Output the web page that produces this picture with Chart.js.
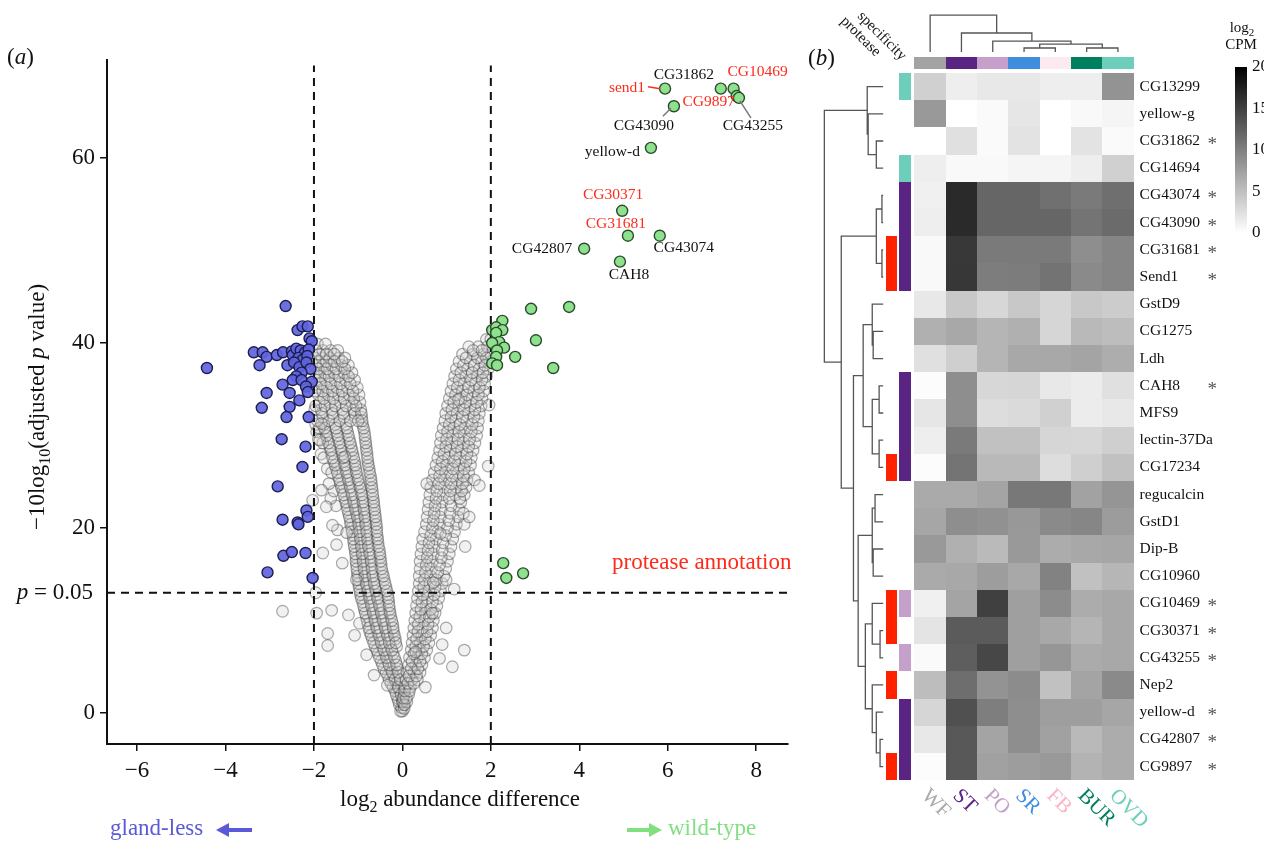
<!DOCTYPE html>
<html>
<head>
<meta charset="utf-8">
<script src="https://cdn.jsdelivr.net/npm/chart.js@4.4.1/dist/chart.umd.min.js"></script>
<style>
  html, body { margin: 0; padding: 0; background: #fff; width: 1264px; height: 843px; overflow: hidden; }
  #volcano { position: absolute; left: 0; top: 0; }
  #heat { position: absolute; left: 800px; top: 0; }
</style>
</head>
<body>
<canvas id="volcano" width="800" height="843"></canvas>
<canvas id="heat" width="464" height="843"></canvas>
<script>
const SERIF = '"Liberation Serif", "DejaVu Serif", serif';
const RED = '#ff2a1a';

// ---------- (a) volcano data ----------
const xTicks = [-6, -4, -2, 0, 2, 4, 6, 8];
const yTicks = [0, 20, 40, 60];
const foldCut = [-2, 2];
const pCutY = 13.0; // -10log10(0.05)

// gland-less enriched (blue)
const glandLess = [
  [-4.42, 37.3], [-2.64, 44.0], [-2.37, 41.4], [-2.26, 41.8], [-2.14, 41.8], [-2.10, 40.5], [-2.05, 40.2],
  [-3.36, 39.0], [-3.16, 39.0], [-3.07, 38.5], [-2.84, 38.7], [-3.23, 37.6], [-2.70, 39.0], [-2.50, 39.1],
  [-2.48, 38.7], [-2.40, 39.4], [-2.30, 39.2], [-2.20, 39.0], [-2.12, 39.3], [-2.35, 38.4], [-2.25, 38.2],
  [-2.15, 38.6], [-2.60, 37.6], [-2.45, 37.9], [-2.33, 37.4], [-2.17, 37.9], [-2.08, 37.2], [-2.28, 36.8],
  [-2.40, 36.4], [-2.48, 36.0], [-2.28, 36.0], [-2.05, 35.8], [-2.18, 35.3], [-2.71, 35.5], [-2.55, 34.6],
  [-3.07, 34.6], [-2.14, 34.7], [-2.33, 33.8], [-3.18, 33.0], [-2.55, 33.1], [-2.62, 32.0], [-2.12, 32.0],
  [-2.73, 29.6], [-2.19, 28.8], [-2.26, 26.6], [-2.82, 24.5], [-2.17, 21.9], [-2.14, 21.2], [-2.71, 20.9],
  [-2.37, 20.6], [-2.35, 20.4], [-2.69, 17.0], [-2.50, 17.4], [-2.19, 17.3], [-3.05, 15.2], [-2.03, 14.6]
];

// wild-type enriched (green), named where labelled
const wildType = [
  [5.94, 67.5, 'send1'], [7.20, 67.5, 'CG31862'], [7.49, 67.5, 'CG10469'], [7.56, 66.7, 'CG9897'],
  [7.61, 66.5, 'CG43255'], [6.14, 65.6, 'CG43090'], [5.62, 61.1, 'yellow-d'], [4.97, 54.3, 'CG30371'],
  [5.10, 51.6, 'CG31681'], [5.82, 51.6, 'CG43074'], [4.11, 50.2, 'CG42807'], [4.92, 48.8, 'CAH8'],
  [2.91, 43.7], [3.77, 43.9], [3.02, 40.3], [2.55, 38.5], [3.41, 37.3], [2.03, 41.4], [2.26, 42.4],
  [2.12, 41.7], [2.26, 41.4], [2.12, 41.1], [2.19, 40.1], [2.03, 40.0], [2.30, 39.5], [2.14, 39.2],
  [2.12, 38.5], [2.03, 37.8], [2.14, 37.6], [2.28, 16.2], [2.35, 14.6], [2.73, 15.1]
];

// not significant (grey), rows of [y, [x...]]
const notSigLeftArm = [
  [0.2, [0.0, -0.04]], [0.9, [-0.07, 0.03]], [1.6, [-0.11, -0.01]], [2.4, [-0.17, -0.06]],
  [3.2, [-0.26, -0.13, -0.03]], [4.0, [-0.33, -0.19, -0.06]], [4.8, [-0.42, -0.27, -0.11]],
  [5.6, [-0.48, -0.33, -0.15]], [6.4, [-0.55, -0.39, -0.21]], [7.2, [-0.62, -0.45, -0.27, -0.13]],
  [8.0, [-0.68, -0.5, -0.31, -0.16]], [8.8, [-0.74, -0.56, -0.37, -0.2]], [9.6, [-0.78, -0.6, -0.41, -0.22]],
  [10.4, [-0.82, -0.64, -0.46, -0.26]], [11.2, [-0.86, -0.68, -0.5, -0.29]], [12.0, [-0.9, -0.72, -0.54, -0.31]],
  [12.8, [-0.95, -0.76, -0.58, -0.33]], [13.6, [-0.98, -0.8, -0.62, -0.37]], [14.4, [-1.0, -0.83, -0.65, -0.41]],
  [15.2, [-1.02, -0.86, -0.68, -0.45]], [16.0, [-1.04, -0.88, -0.7, -0.48]], [16.8, [-1.05, -0.9, -0.72, -0.5]],
  [17.6, [-1.07, -0.92, -0.75, -0.52]], [18.4, [-1.1, -0.94, -0.78, -0.55]], [19.2, [-1.12, -0.96, -0.8, -0.57]],
  [20.0, [-1.15, -0.98, -0.82, -0.58]], [20.8, [-1.18, -1.0, -0.84, -0.6]], [21.6, [-1.22, -1.04, -0.86, -0.62]],
  [22.4, [-1.5, -1.26, -1.08, -0.88, -0.64]], [23.2, [-1.62, -1.3, -1.12, -0.9, -0.66]],
  [24.0, [-1.55, -1.35, -1.16, -0.94, -0.68]], [24.8, [-1.66, -1.4, -1.2, -0.98, -0.7]],
  [25.6, [-1.45, -1.24, -1.02, -0.72]], [26.4, [-1.7, -1.5, -1.28, -1.05, -0.75]],
  [27.2, [-1.55, -1.32, -1.08, -0.78]], [28.0, [-1.84, -1.6, -1.36, -1.12, -0.8]],
  [28.8, [-1.64, -1.4, -1.16, -0.82]], [29.6, [-1.9, -1.7, -1.44, -1.2, -0.84]],
  [30.4, [-1.94, -1.74, -1.48, -1.24, -0.86]], [31.2, [-1.96, -1.78, -1.52, -1.28, -0.9]],
  [32.0, [-1.8, -1.56, -1.32, -1.06, -0.92]], [32.8, [-1.98, -1.84, -1.6, -1.36, -1.1, -0.94]],
  [33.6, [-1.86, -1.64, -1.4, -1.14, -0.96]], [34.4, [-1.9, -1.68, -1.44, -1.2, -0.98]],
  [35.2, [-1.92, -1.7, -1.48, -1.24, -1.02]], [36.0, [-1.95, -1.74, -1.52, -1.28, -1.08]],
  [36.8, [-1.96, -1.76, -1.55, -1.32, -1.14]], [37.6, [-1.98, -1.8, -1.6, -1.38, -1.22]],
  [38.4, [-1.98, -1.82, -1.64, -1.44, -1.3]], [39.2, [-1.96, -1.8, -1.62, -1.46]], [39.9, [-1.92, -1.74]]
];
const notSigLeftFill = [
  [0.6, [-0.02]], [1.3, [-0.09, 0.01]], [2.0, [-0.14, -0.03]], [2.8, [-0.21, -0.09]],
  [3.6, [-0.3, -0.17, -0.05]], [4.4, [-0.37, -0.23, -0.09]], [5.2, [-0.45, -0.3, -0.13]],
  [6.0, [-0.52, -0.36, -0.18]], [6.8, [-0.58, -0.42, -0.24]], [7.6, [-0.65, -0.48, -0.3, -0.15]],
  [8.4, [-0.71, -0.53, -0.34, -0.18]], [9.2, [-0.76, -0.58, -0.39, -0.21]], [10.0, [-0.8, -0.62, -0.44, -0.24]],
  [10.8, [-0.84, -0.66, -0.48, -0.28]], [11.6, [-0.88, -0.7, -0.52, -0.3]], [12.4, [-0.93, -0.74, -0.56, -0.32]],
  [13.2, [-0.96, -0.78, -0.6, -0.35]], [14.0, [-0.99, -0.82, -0.64, -0.39]], [14.8, [-1.01, -0.85, -0.67, -0.43]],
  [15.6, [-1.03, -0.87, -0.69, -0.47]], [16.4, [-1.05, -0.89, -0.71, -0.49]], [17.2, [-1.06, -0.91, -0.74, -0.51]],
  [18.0, [-1.09, -0.93, -0.77, -0.54]], [18.8, [-1.11, -0.95, -0.79, -0.56]], [19.6, [-1.14, -0.97, -0.81, -0.58]],
  [20.4, [-1.17, -0.99, -0.83, -0.59]], [21.2, [-1.2, -1.02, -0.85, -0.61]], [22.0, [-1.24, -1.06, -0.87, -0.63]],
  [22.8, [-1.28, -1.1, -0.89, -0.65]], [23.6, [-1.33, -1.14, -0.92, -0.67]], [24.4, [-1.38, -1.18, -0.96, -0.69]],
  [25.2, [-1.42, -1.22, -1.0, -0.71]], [26.0, [-1.6, -1.47, -1.26, -1.04, -0.74]],
  [26.8, [-1.52, -1.3, -1.07, -0.77]], [27.6, [-1.78, -1.58, -1.34, -1.1, -0.79]],
  [28.4, [-1.62, -1.38, -1.14, -0.81]], [29.2, [-1.8, -1.67, -1.42, -1.18, -0.83]],
  [30.0, [-1.72, -1.46, -1.22, -0.85]], [30.8, [-1.88, -1.76, -1.5, -1.26, -0.88]],
  [31.6, [-1.92, -1.66, -1.42, -1.18, -0.91]], [32.4, [-1.82, -1.58, -1.34, -1.08, -0.93]],
  [33.2, [-1.96, -1.75, -1.52, -1.27, -1.05]], [34.0, [-1.78, -1.56, -1.32, -1.1]],
  [34.8, [-1.98, -1.8, -1.58, -1.36, -1.12]], [35.6, [-1.84, -1.62, -1.4, -1.18]],
  [36.4, [-1.86, -1.66, -1.44, -1.22]], [37.2, [-1.9, -1.7, -1.5, -1.3]], [38.0, [-1.9, -1.72, -1.54, -1.36]],
  [38.8, [-1.88, -1.72, -1.54]]
];
const notSigRightArm = [
  [0.5, [0.04]], [1.2, [0.0, 0.1]], [2.0, [0.04, 0.14]], [2.8, [0.06, 0.18]], [3.6, [0.08, 0.22, 0.34]],
  [4.4, [0.1, 0.26, 0.4]], [5.2, [0.14, 0.3, 0.44]], [6.0, [0.16, 0.34, 0.5]], [6.8, [0.2, 0.38, 0.55]],
  [7.6, [0.22, 0.4, 0.6]], [8.4, [0.24, 0.44, 0.64]], [9.2, [0.26, 0.46, 0.68]], [10.0, [0.28, 0.5, 0.7]],
  [10.8, [0.3, 0.52, 0.74]], [11.6, [0.32, 0.54, 0.78]], [12.4, [0.34, 0.56, 0.82]], [13.2, [0.36, 0.6, 0.86]],
  [14.0, [0.38, 0.62, 0.9]], [14.8, [0.38, 0.64, 0.94]], [15.6, [0.4, 0.66, 0.98]], [16.4, [0.4, 0.68, 1.02]],
  [17.2, [0.42, 0.7, 1.06]], [18.0, [0.44, 0.72, 1.1]], [18.8, [0.46, 0.76, 1.14]], [19.6, [0.5, 0.8, 1.18]],
  [20.4, [0.54, 0.84, 1.22, 1.4]], [21.2, [0.56, 0.86, 1.26]], [22.0, [0.58, 0.88, 1.28]], [22.8, [0.6, 0.9, 1.32]],
  [23.6, [0.62, 0.92, 1.2, 1.4]], [24.4, [0.64, 0.94, 1.22, 1.44]], [25.2, [0.68, 0.96, 1.24, 1.46]],
  [26.0, [0.72, 0.98, 1.26, 1.5]], [26.8, [0.76, 1.0, 1.28, 1.54]], [27.6, [0.8, 1.04, 1.3, 1.56]],
  [28.4, [0.84, 1.08, 1.34, 1.6]], [29.2, [0.86, 1.12, 1.38, 1.64]], [30.0, [0.88, 1.14, 1.4, 1.68]],
  [30.8, [0.92, 1.16, 1.42, 1.7]], [31.6, [0.96, 1.2, 1.46, 1.72]], [32.4, [0.98, 1.24, 1.5, 1.74]],
  [33.2, [1.02, 1.28, 1.54, 1.78]], [34.0, [1.06, 1.32, 1.58, 1.8]], [34.8, [1.1, 1.36, 1.62, 1.84]],
  [35.6, [1.14, 1.4, 1.66, 1.86]], [36.4, [1.18, 1.44, 1.7, 1.9]], [37.2, [1.22, 1.48, 1.74, 1.94]],
  [38.0, [1.28, 1.54, 1.8, 1.98]], [38.8, [1.36, 1.6, 1.84, 2.0]], [39.6, [1.5, 1.72, 1.92]], [40.4, [1.9, 2.0]]
];
const notSigRightFill = [
  [0.9, [0.05]], [1.6, [0.02, 0.09]], [2.4, [0.05, 0.16]], [3.2, [0.12, 0.26]], [4.0, [0.15, 0.32]],
  [4.8, [0.2, 0.35]], [5.6, [0.22, 0.4]], [6.4, [0.26, 0.44]], [7.2, [0.3, 0.48]], [8.0, [0.32, 0.52]],
  [8.8, [0.35, 0.56]], [9.6, [0.36, 0.58]], [10.4, [0.39, 0.61]], [11.2, [0.42, 0.64]], [12.0, [0.44, 0.68]],
  [12.8, [0.46, 0.72]], [13.6, [0.48, 0.74]], [14.4, [0.5, 0.77]], [15.2, [0.52, 0.8]], [16.0, [0.54, 0.84]],
  [16.8, [0.56, 0.88]], [17.6, [0.58, 0.9]], [18.4, [0.6, 0.92]], [19.2, [0.64, 0.98]], [20.0, [0.68, 1.02]],
  [20.8, [0.7, 1.05]], [21.6, [0.72, 1.08, 1.38]], [22.4, [0.74, 1.1]], [23.2, [0.76, 1.06, 1.3]],
  [24.0, [0.78, 1.08, 1.34]], [24.8, [0.82, 1.1, 1.36]], [25.6, [0.84, 1.12, 1.38]], [26.4, [0.86, 1.14, 1.4]],
  [27.2, [0.9, 1.18, 1.44]], [28.0, [0.94, 1.2, 1.46]], [28.8, [0.98, 1.24, 1.5]], [29.6, [1.0, 1.26, 1.52]],
  [30.4, [1.02, 1.28, 1.56]], [31.2, [1.06, 1.3, 1.58]], [32.0, [1.1, 1.36, 1.62]], [32.8, [1.12, 1.4, 1.64]],
  [33.6, [1.16, 1.42, 1.68]], [34.4, [1.2, 1.46, 1.72]], [35.2, [1.24, 1.5, 1.74]], [36.0, [1.28, 1.56, 1.8]],
  [36.8, [1.32, 1.58, 1.82]], [37.6, [1.38, 1.62, 1.86]], [38.4, [1.44, 1.7, 1.9]], [39.2, [1.6, 1.8]]
];
const notSigScattered = [
  [-2.71, 11.0], [-1.96, 13.0], [-1.94, 10.8], [-1.60, 11.1], [-1.69, 8.6], [-1.69, 7.3], [-1.08, 8.4],
  [-0.81, 6.3], [-0.97, 9.7], [-1.80, 17.3], [-1.49, 18.2], [-1.47, 19.8], [-1.58, 20.3], [-2.03, 23.0],
  [-1.83, 24.1], [-1.72, 22.3], [-1.26, 19.5], [-1.04, 14.4], [-1.87, 29.5], [-1.83, 31.3], [-0.34, 3.0],
  [1.96, 33.3], [1.94, 26.7], [1.63, 25.2], [1.74, 24.6], [1.51, 21.2], [1.42, 18.0], [1.17, 13.4],
  [0.99, 14.4], [0.68, 10.8], [0.99, 9.2], [0.90, 7.4], [1.40, 6.8], [1.13, 5.0], [0.84, 5.9], [0.52, 2.8],
  [-1.36, 16.2], [-1.22, 10.6], [-0.64, 4.1], [-1.3, 27.7], [-1.0, 31.6], [0.55, 24.8], [0.86, 19.4],
  [0.3, 6.6], [1.27, 33.9], [0.7, 14.1]
];

// ---------- (b) heatmap data ----------
const tissues = ['WF', 'ST', 'PO', 'SR', 'FB', 'BUR', 'OVD'];
const genes = ['CG13299', 'yellow-g', 'CG31862', 'CG14694', 'CG43074', 'CG43090', 'CG31681', 'Send1',
  'GstD9', 'CG1275', 'Ldh', 'CAH8', 'MFS9', 'lectin-37Da', 'CG17234', 'regucalcin', 'GstD1', 'Dip-B',
  'CG10960', 'CG10469', 'CG30371', 'CG43255', 'Nep2', 'yellow-d', 'CG42807', 'CG9897'];
// log2 CPM, columns in tissue order
const cpm = [
  [3.7, 1.3, 1.8, 1.8, 1.3, 1.3, 8.5],
  [8.0, 0.0, 0.4, 2.0, 0.0, 0.5, 0.8],
  [0.0, 2.4, 0.4, 2.2, 0.0, 2.2, 0.4],
  [1.3, 0.5, 0.5, 0.8, 0.8, 1.3, 3.7],
  [1.2, 16.7, 12.0, 12.0, 11.2, 10.4, 11.3],
  [1.3, 16.7, 12.0, 12.0, 12.0, 10.9, 11.6],
  [0.5, 15.6, 10.4, 10.4, 10.4, 8.9, 9.6],
  [0.5, 15.7, 10.2, 10.3, 11.0, 9.2, 9.6],
  [1.8, 4.3, 3.1, 4.3, 3.2, 4.3, 4.0],
  [6.2, 6.8, 5.8, 6.2, 3.2, 5.5, 5.2],
  [2.4, 3.8, 5.8, 6.8, 6.8, 7.1, 6.4],
  [0.2, 8.9, 3.1, 3.2, 1.8, 1.5, 2.4],
  [2.0, 8.9, 2.7, 2.9, 3.7, 1.5, 1.8],
  [1.3, 10.4, 4.9, 4.9, 3.2, 3.1, 3.8],
  [0.2, 10.9, 5.5, 5.5, 2.7, 3.8, 4.9],
  [6.7, 6.7, 7.1, 10.6, 10.6, 7.3, 8.3],
  [7.0, 8.9, 8.6, 8.1, 9.2, 9.5, 7.8],
  [8.0, 6.2, 5.4, 8.0, 6.5, 6.8, 7.0],
  [6.7, 6.8, 7.7, 6.8, 9.8, 4.9, 5.7],
  [1.2, 7.1, 15.0, 7.5, 9.0, 6.5, 6.8],
  [2.1, 12.9, 12.9, 7.5, 6.8, 5.8, 6.8],
  [0.4, 12.6, 14.4, 7.5, 8.2, 6.6, 6.8],
  [5.2, 11.4, 8.5, 9.0, 4.9, 7.1, 9.2],
  [3.2, 13.7, 10.1, 8.9, 7.6, 7.6, 7.0],
  [1.8, 13.1, 7.1, 8.9, 7.4, 5.5, 6.5],
  [0.2, 13.1, 7.4, 7.7, 8.0, 6.0, 6.5]
];
const protease = [0, 0, 0, 0, 0, 0, 1, 1, 0, 0, 0, 0, 0, 0, 1, 0, 0, 0, 0, 1, 1, 0, 1, 0, 0, 1];
const specificity = ['OVD', '', '', 'OVD', 'ST', 'ST', 'ST', 'ST', '', '', '', 'ST', 'ST', 'ST', 'ST',
  '', '', '', '', 'PO', '', 'PO', '', 'ST', 'ST', 'ST'];
const starred = ['CG31862', 'CG43074', 'CG43090', 'CG31681', 'Send1', 'CAH8', 'CG10469', 'CG30371',
  'CG43255', 'yellow-d', 'CG42807', 'CG9897'];
// dendrograms: [childA, childB, height]; leaves are 0..n-1, new nodes numbered after
const rowMerges = [
  [2, 3, 0.22], [1, 26, 0.48], [0, 27, 0.51], [4, 5, 0.04], [6, 7, 0.04], [29, 30, 0.22],
  [9, 10, 0.32], [8, 32, 0.35], [11, 12, 0.13], [13, 14, 0.13], [34, 35, 0.35], [33, 36, 0.64],
  [15, 16, 0.26], [17, 18, 0.32], [38, 39, 0.35], [20, 21, 0.10], [19, 41, 0.35], [24, 25, 0.10],
  [23, 43, 0.22], [22, 44, 0.35], [42, 45, 0.57], [40, 46, 0.80], [37, 47, 0.95], [31, 48, 1.34],
  [28, 49, 1.88]
];
const colMerges = [[3, 4, 0.15], [5, 6, 0.15], [7, 8, 0.29], [2, 9, 0.40], [1, 10, 0.70], [0, 11, 1.36]];
const cpmTicks = [0, 5, 10, 15, 20];

// ---------- styles ----------
const tissueBar = ['#a3a3a3', '#5a2483', '#c4a0cb', '#3f8edd', '#fde9f0', '#007f5e', '#6dcfbb'];
const tissueText = ['#aaaaaa', '#5a2483', '#c4a0cb', '#3f8edd', '#f9b5c6', '#007f5e', '#6dcfbb'];
const geneLabels = [
  { name: 'send1', dx: -20, dy: -1, align: 'right', color: RED, leader: [-17, -2, -5, 0], lc: RED },
  { name: 'CG31862', dx: -37, dy: -14, align: 'center', color: '#111' },
  { name: 'CG10469', dx: 24, dy: -17, align: 'center', color: RED },
  { name: 'CG9897', dx: -28, dy: 6, align: 'center', color: RED },
  { name: 'CG43255', dx: 14, dy: 28, align: 'center', color: '#111', leader: [1, 3, 12, 20], lc: '#777' },
  { name: 'CG43090', dx: -30, dy: 20, align: 'center', color: '#111', leader: [-11, 10, -3, 2], lc: '#777' },
  { name: 'yellow-d', dx: -11, dy: 4, align: 'right', color: '#111' },
  { name: 'CG30371', dx: -9, dy: -16, align: 'center', color: RED },
  { name: 'CG31681', dx: -12, dy: -12, align: 'center', color: RED },
  { name: 'CG43074', dx: 24, dy: 12, align: 'center', color: '#111' },
  { name: 'CG42807', dx: -12, dy: 0, align: 'right', color: '#111' },
  { name: 'CAH8', dx: 9, dy: 13, align: 'center', color: '#111' }
];

const X_MIN = -6.68, X_MAX = 8.72, Y_MIN = -3.35, Y_MAX = 70.6;

function runs(ctx, parts, x, y, align) {
  let w = 0;
  parts.forEach(p => { ctx.font = p[1]; w += ctx.measureText(p[0]).width; });
  let cx = align === 'center' ? x - w / 2 : align === 'right' ? x - w : x;
  ctx.textAlign = 'left';
  parts.forEach(p => {
    ctx.font = p[1];
    ctx.fillText(p[0], cx, y + (p[2] || 0));
    cx += ctx.measureText(p[0]).width;
  });
}

function arrow(ctx, x0, x1, y, color) {
  const dir = Math.sign(x1 - x0);
  ctx.strokeStyle = color; ctx.fillStyle = color; ctx.lineWidth = 4;
  ctx.beginPath(); ctx.moveTo(x0, y); ctx.lineTo(x1 - dir * 8, y); ctx.stroke();
  ctx.beginPath(); ctx.moveTo(x1, y); ctx.lineTo(x1 - dir * 13, y - 7); ctx.lineTo(x1 - dir * 13, y + 7); ctx.closePath(); ctx.fill();
}

const toXY = d => ({ x: d[0], y: d[1] });
const rowsToXY = rows => rows.flatMap(([y, xs]) => xs.map(x => ({ x, y })));
const notSig = [
  ...rowsToXY(notSigLeftArm), ...rowsToXY(notSigLeftFill),
  ...rowsToXY(notSigRightArm), ...rowsToXY(notSigRightFill),
  ...notSigScattered.map(toXY)
];
const GAP = { x: null, y: null };
const cutLines = [
  ...foldCut.flatMap(v => [{ x: v, y: Y_MIN }, { x: v, y: 70 }, GAP]),
  { x: X_MIN, y: pCutY }, { x: X_MAX, y: pCutY }
];

const volcanoText = {
  id: 'volcanoText',
  afterDatasetsDraw(chart) {
    const { ctx, scales: { x, y } } = chart;
    ctx.save();
    ctx.textBaseline = 'middle';
    geneLabels.forEach(l => {
      const p = wildType.find(d => d[2] === l.name);
      const px = x.getPixelForValue(p[0]), py = y.getPixelForValue(p[1]);
      if (l.leader) {
        ctx.strokeStyle = l.lc; ctx.lineWidth = 1.5;
        ctx.beginPath();
        ctx.moveTo(px + l.leader[0], py + l.leader[1]);
        ctx.lineTo(px + l.leader[2], py + l.leader[3]);
        ctx.stroke();
      }
      ctx.font = '15.5px ' + SERIF;
      ctx.fillStyle = l.color;
      ctx.textAlign = l.align;
      ctx.fillText(l.name, px + l.dx, py + l.dy);
    });
    ctx.restore();
  },
  afterDraw(chart) {
    const { ctx, scales: { y } } = chart;
    const F = '23px ' + SERIF, FI = 'italic 23px ' + SERIF, FS = '16px ' + SERIF;
    ctx.save();
    ctx.textBaseline = 'middle';
    ctx.fillStyle = '#111';
    runs(ctx, [['(', F], ['a', FI], [')', F]], 7, 58, 'left');
    runs(ctx, [['p', FI], [' = 0.05', F]], 93, y.getPixelForValue(pCutY), 'right');
    runs(ctx, [['log', F], ['2', FS, 8], [' abundance difference', F]], 460, 800, 'center');
    ctx.save();
    ctx.translate(38, 407);
    ctx.rotate(-Math.PI / 2);
    runs(ctx, [['\u221210log', F], ['10', FS, 8], ['(adjusted ', F], ['p', FI], [' value)', F]], 0, 0, 'center');
    ctx.restore();
    ctx.fillStyle = RED;
    runs(ctx, [['protease annotation', F]], 612, 563, 'left');
    ctx.fillStyle = '#5a5ad9';
    runs(ctx, [['gland-less', F]], 110, 829, 'left');
    arrow(ctx, 252, 216, 830, '#5a5ad9');
    ctx.fillStyle = '#80e080';
    runs(ctx, [['wild-type', F]], 668, 829, 'left');
    arrow(ctx, 627, 662, 830, '#80e080');
    ctx.restore();
  }
};

const axisCommon = {
  type: 'linear',
  grid: { display: true, drawOnChartArea: false, drawTicks: true, tickLength: 7, color: '#111', lineWidth: 1.5 },
  border: { display: true, color: '#111', width: 2 },
  ticks: { font: { family: SERIF, size: 23 }, color: '#111', padding: 5, callback: v => String(v).replace('-', '\u2212') }
};

new Chart(document.getElementById('volcano'), {
  type: 'scatter',
  data: {
    datasets: [
      { label: 'wild-type', data: wildType.map(toXY), pointRadius: 5.5, backgroundColor: '#8ee28e', borderColor: '#2c4a2c', borderWidth: 1.4, order: 0 },
      { label: 'gland-less', data: glandLess.map(toXY), pointRadius: 5.5, backgroundColor: 'rgba(96,100,222,0.92)', borderColor: '#1d1d50', borderWidth: 1.4, order: 1 },
      { label: 'cut-offs', data: cutLines, showLine: true, pointRadius: 0, borderColor: '#111', borderWidth: 2, borderDash: [8, 6], order: 2 },
      { label: 'n.s.', data: notSig, pointRadius: 5.8, backgroundColor: 'rgba(210,210,210,0.3)', borderColor: 'rgba(55,55,55,0.42)', borderWidth: 1.2, order: 3 }
    ]
  },
  options: {
    responsive: false, animation: false, events: [],
    layout: { autoPadding: false, padding: { top: 60, right: 12, left: 0, bottom: 0 } },
    plugins: { legend: { display: false }, tooltip: { enabled: false } },
    scales: {
      x: { ...axisCommon, min: X_MIN, max: X_MAX,
        afterBuildTicks: s => { s.ticks = xTicks.map(v => ({ value: v })); },
        afterFit: s => { s.height = 99; },
        ticks: { ...axisCommon.ticks, padding: 6 } },
      y: { ...axisCommon, min: Y_MIN, max: Y_MAX,
        afterBuildTicks: s => { s.ticks = yTicks.map(v => ({ value: v })); },
        afterFit: s => { s.width = 107; } }
    }
  },
  plugins: [volcanoText]
});

// ---------- (b) heatmap ----------
const ROW_LEAF_X = -1.0, COL_LEAF_Y = -0.77;
function dendro(n, merges, place) {
  const pos = [];
  for (let i = 0; i < n; i++) pos.push({ c: i + 0.5, h: 0 });
  const pts = [];
  merges.forEach(([a, b, h]) => {
    const A = pos[a], B = pos[b];
    pts.push(place(A.c, A.h), place(A.c, h), place(B.c, h), place(B.c, B.h), GAP);
    pos.push({ c: (A.c + B.c) / 2, h });
  });
  return pts;
}
const rowDendro = dendro(genes.length, rowMerges, (c, h) => ({ x: ROW_LEAF_X - h, y: c }));
const colDendro = dendro(tissues.length, colMerges, (c, h) => ({ x: c, y: COL_LEAF_Y - h }));

const cpmGrey = v => { const g = Math.max(0, Math.round(255 - 12.75 * v)); return `rgb(${g},${g},${g})`; };

const heatPlugin = {
  id: 'heatCells',
  beforeDatasetsDraw(chart) {
    const { ctx, scales: { x, y } } = chart;
    const X = v => Math.round(x.getPixelForValue(v)), Y = v => Math.round(y.getPixelForValue(v));
    ctx.save();
    cpm.forEach((row, r) => row.forEach((v, c) => {
      ctx.fillStyle = cpmGrey(v);
      ctx.fillRect(X(c), Y(r), X(c + 1) - X(c), Y(r + 1) - Y(r));
    }));
    tissues.forEach((t, c) => {
      ctx.fillStyle = tissueBar[c];
      ctx.fillRect(X(c), Y(-0.59), X(c + 1) - X(c), Y(-0.15) - Y(-0.59));
    });
    protease.forEach((p, r) => {
      if (!p) return;
      ctx.fillStyle = '#ff2200';
      ctx.fillRect(X(-0.92), Y(r), X(-0.56) - X(-0.92), Y(r + 1) - Y(r));
    });
    specificity.forEach((s, r) => {
      if (!s) return;
      ctx.fillStyle = tissueBar[tissues.indexOf(s)];
      ctx.fillRect(X(-0.495), Y(r), X(-0.11) - X(-0.495), Y(r + 1) - Y(r));
    });
    ctx.restore();
  },
  afterDraw(chart) {
    const { ctx, scales: { x, y } } = chart;
    const X = v => x.getPixelForValue(v), Y = v => y.getPixelForValue(v);
    const right = X(tissues.length);
    ctx.save();
    ctx.textBaseline = 'middle';
    genes.forEach((g, r) => {
      ctx.font = '15.5px ' + SERIF; ctx.textAlign = 'left'; ctx.fillStyle = '#111';
      ctx.fillText(g, right + 6, Y(r + 0.5));
      if (starred.includes(g)) {
        ctx.font = '19px ' + SERIF; ctx.fillStyle = '#555';
        ctx.fillText('*', right + 74, Y(r + 0.5) + 4);
      }
    });
    // column labels
    tissues.forEach((t, c) => {
      ctx.save();
      ctx.translate(X(c + 0.5) + 2, Y(genes.length) + 5);
      ctx.rotate(Math.PI / 4);
      ctx.font = '21px ' + SERIF; ctx.fillStyle = tissueText[c];
      ctx.textAlign = 'left'; ctx.textBaseline = 'top';
      ctx.fillText(t, 0, 0);
      ctx.restore();
    });
    // annotation headers
    [['protease', X(-0.74) - 16, 57], ['specificity', X(-0.3) - 4, 61]].forEach(([t, ax, ay]) => {
      ctx.save();
      ctx.translate(ax, ay);
      ctx.rotate(Math.PI / 4);
      ctx.font = '15px ' + SERIF; ctx.fillStyle = '#111';
      ctx.textAlign = 'right'; ctx.textBaseline = 'alphabetic';
      ctx.fillText(t, 0, 0);
      ctx.restore();
    });
    // colour key
    const kx = 435, kw = 12, kTop = 67, kBot = 233;
    const grad = ctx.createLinearGradient(0, kBot, 0, kTop);
    grad.addColorStop(0, cpmGrey(cpmTicks[0]));
    grad.addColorStop(1, cpmGrey(cpmTicks[cpmTicks.length - 1]));
    ctx.fillStyle = grad;
    ctx.fillRect(kx, kTop, kw, kBot - kTop);
    ctx.fillStyle = '#111';
    ctx.font = '17px ' + SERIF; ctx.textAlign = 'left';
    const top = cpmTicks[cpmTicks.length - 1];
    cpmTicks.forEach(v => ctx.fillText(String(v), kx + 17, kBot - (kBot - kTop) * v / top));
    const F15 = '15px ' + SERIF;
    runs(ctx, [['log', F15], ['2', '11px ' + SERIF, 5]], 442, 28, 'center');
    runs(ctx, [['CPM', F15]], 441, 45, 'center');
    runs(ctx, [['(', '23px ' + SERIF], ['b', 'italic 23px ' + SERIF], [')', '23px ' + SERIF]], 8, 59, 'left');
    ctx.restore();
  }
};

new Chart(document.getElementById('heat'), {
  type: 'scatter',
  data: {
    datasets: [
      { label: 'rows', data: rowDendro, showLine: true, pointRadius: 0, borderColor: '#555', borderWidth: 1.3 },
      { label: 'cols', data: colDendro, showLine: true, pointRadius: 0, borderColor: '#555', borderWidth: 1.3 }
    ]
  },
  options: {
    responsive: false, animation: false, events: [],
    layout: { autoPadding: false, padding: 0 },
    plugins: { legend: { display: false }, tooltip: { enabled: false } },
    scales: {
      x: { type: 'linear', min: -3.658, max: 11.166, display: false },
      y: { type: 'linear', min: -2.684, max: 28.31, reverse: true, display: false }
    }
  },
  plugins: [heatPlugin]
});
</script>
</body>
</html>
